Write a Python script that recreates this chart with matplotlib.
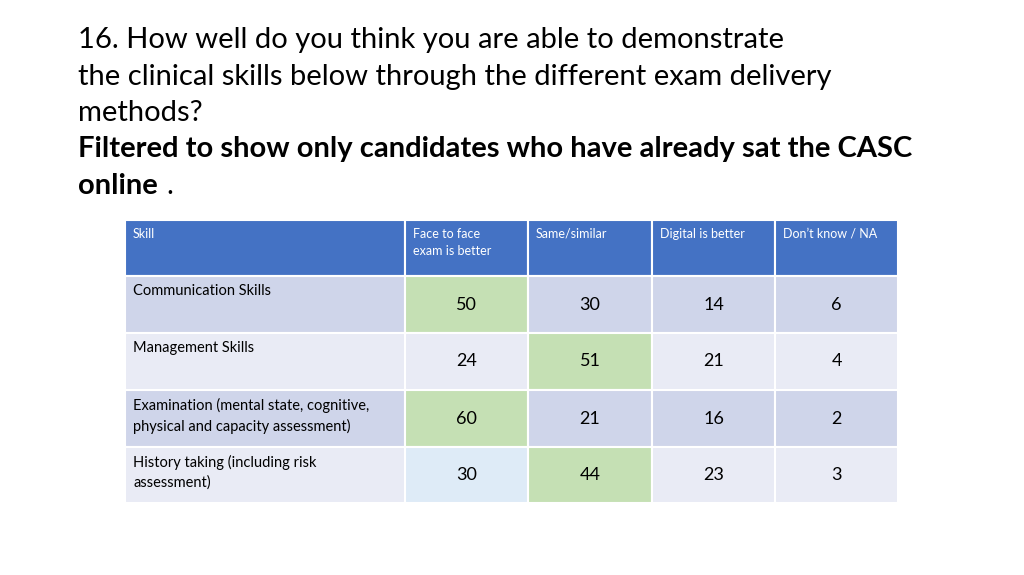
import matplotlib
matplotlib.use("Agg")
import matplotlib.pyplot as plt
from matplotlib.patches import Rectangle

# ---- data ----
title_lines = [
    "16. How well do you think you are able to demonstrate",
    "the clinical skills below through the different exam delivery",
    "methods?",
]
title_bold = ["Filtered to show only candidates who have already sat the CASC", "online"]
columns = ["Skill", "Face to face\nexam is better", "Same/similar", "Digital is better", "Don\u2019t know / NA"]
skills = [
    "Communication Skills",
    "Management Skills",
    "Examination (mental state, cognitive,\nphysical and capacity assessment)",
    "History taking (including risk\nassessment)",
]
face_to_face = [50, 24, 60, 30]
same_similar = [30, 51, 21, 44]
digital_better = [14, 21, 16, 23]
dont_know = [6, 4, 2, 3]

# highlighted cells (row, value column) -> colour
GREEN = "#C5E0B4"
LIGHTBLUE = "#DEEBF7"
highlights = {(0, 0): GREEN, (1, 1): GREEN, (2, 0): GREEN, (3, 1): GREEN, (3, 0): LIGHTBLUE}

HEADER = "#4472C4"
DARK_ROW = "#CFD5EA"
LIGHT_ROW = "#E9EBF5"

plt.rcParams["font.family"] = ["Lato", "DejaVu Sans"]

fig = plt.figure(figsize=(10.24, 5.75), dpi=100)
ax = fig.add_axes([0, 0, 1, 1])
ax.set_xlim(0, 1024)
ax.set_ylim(575, 0)
ax.axis("off")

# title
y = 40
for line in title_lines:
    ax.text(78, y, line, fontsize=21, va="center", ha="left", color="black")
    y += 36.5
ax.text(78, y, title_bold[0], fontsize=21, va="center", ha="left", fontweight="bold")
y += 36.5
ax.text(78, y, title_bold[1], fontsize=21, va="center", ha="left", fontweight="bold")
ax.text(78 + 88, y, ".", fontsize=21, va="center", ha="left")

# table geometry
col_x = [125, 405, 528, 652, 775, 898]
row_y = [220, 276, 333, 390, 447, 503]

for j, name in enumerate(columns):
    ax.add_patch(Rectangle((col_x[j], row_y[0]), col_x[j + 1] - col_x[j], row_y[1] - row_y[0],
                           facecolor=HEADER, edgecolor="white", lw=1.5))
    ax.text(col_x[j] + 8, row_y[0] + 8, name, fontsize=9, color="white", va="top", ha="left",
            linespacing=1.5)

values = list(zip(face_to_face, same_similar, digital_better, dont_know))
for i, skill in enumerate(skills):
    base = DARK_ROW if i % 2 == 0 else LIGHT_ROW
    y0, y1 = row_y[i + 1], row_y[i + 2]
    ax.add_patch(Rectangle((col_x[0], y0), col_x[1] - col_x[0], y1 - y0,
                           facecolor=base, edgecolor="white", lw=1.5))
    ax.text(col_x[0] + 8, y0 + 8, skill, fontsize=10.5, va="top", ha="left", linespacing=1.5)
    for j, v in enumerate(values[i]):
        c = highlights.get((i, j), base)
        ax.add_patch(Rectangle((col_x[j + 1], y0), col_x[j + 2] - col_x[j + 1], y1 - y0,
                               facecolor=c, edgecolor="white", lw=1.5))
        ax.text((col_x[j + 1] + col_x[j + 2]) / 2, (y0 + y1) / 2, str(v), fontsize=13,
                va="center", ha="center")

fig.savefig("out.png", dpi=100)
